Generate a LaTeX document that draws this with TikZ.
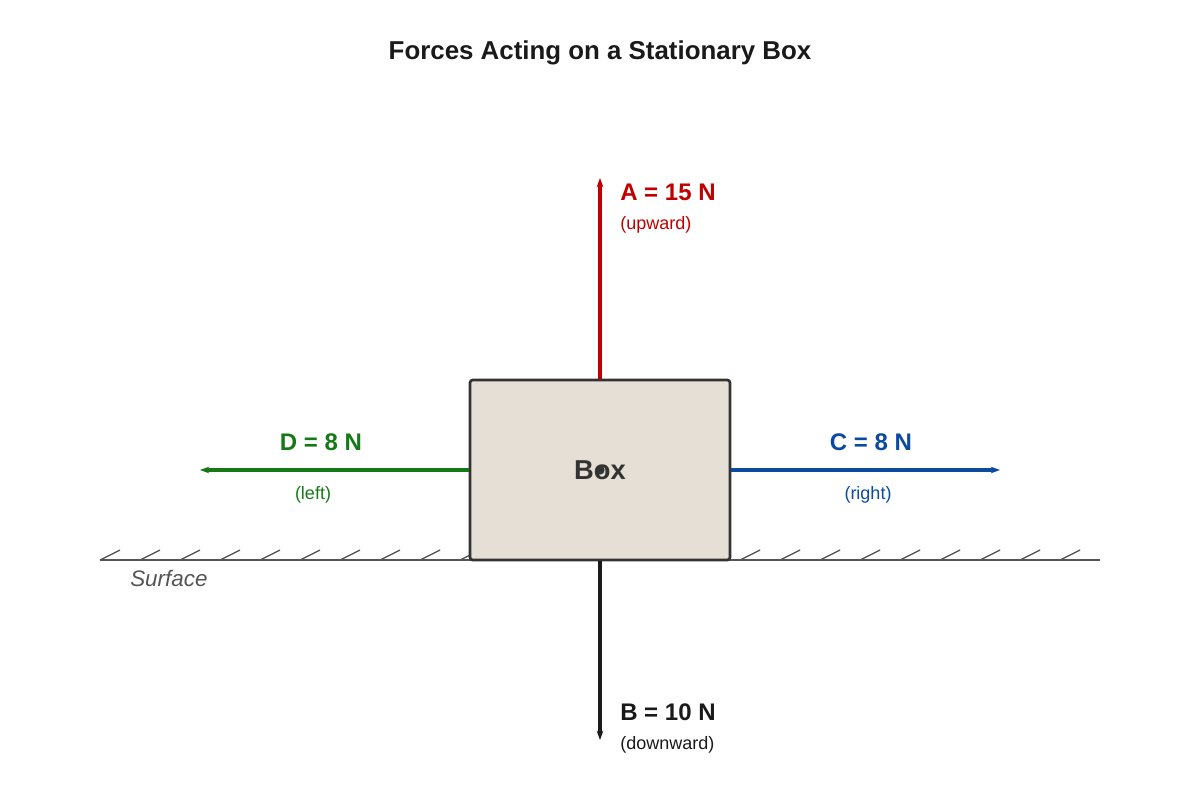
\documentclass[tikz,border=0pt]{standalone}
\usepackage{fontspec}
\setmainfont{Liberation Sans}
\usetikzlibrary{arrows.meta}
\definecolor{cA}{HTML}{C00000}
\definecolor{cB}{HTML}{1A1A1A}
\definecolor{cC}{HTML}{0B4A9E}
\definecolor{cD}{HTML}{157A15}
\definecolor{boxfill}{HTML}{E6DFD5}
\definecolor{boxline}{HTML}{333333}
\definecolor{ground}{HTML}{555555}
\begin{document}
\begin{tikzpicture}[x=0.75pt,y=-0.75pt,
  force/.style={line width=2.3pt,-{Stealth[length=7pt,width=5pt]}},
  big/.style={font=\fontsize{18}{21}\selectfont\bfseries,inner sep=0},
  small/.style={font=\fontsize{13.5}{16}\selectfont,inner sep=0},
  hatch/.style={ground,line width=1pt}]
\useasboundingbox (0,0) rectangle (1200,800);
\node[font=\fontsize{19.4}{23}\selectfont\bfseries,text=cB] (title) at (600,53) {Forces Acting on a Stationary Box};
% ground
\draw[ground,line width=1.6pt] (100,560) -- (1100,560);
\foreach \x in {100,140,...,1060} \draw[hatch] (\x,560) -- (\x+20,550);
\node[font=\fontsize{16.8}{20}\selectfont\itshape,text=ground,anchor=west,inner sep=0] (surf) at (130,578) {Surface};
% box
\node[draw=boxline,fill=boxfill,line width=2pt,rounded corners=2pt,minimum width=195pt,minimum height=135pt,inner sep=0] (box) at (600,470) {};
\node[font=\fontsize{20.5}{24}\selectfont\bfseries,text=boxline] (boxlbl) at (600,470) {Box};
\fill[boxline] (box.center) circle (3.5pt);
\coordinate (tA) at (600,178);
\coordinate (tB) at (600,740);
\coordinate (tC) at (1000,470);
\coordinate (tD) at (200,470);
\draw[force,draw=cA,fill=cA] (box.north) -- (tA);
\draw[force,draw=cB,fill=cB] (box.south) -- (tB);
\draw[force,draw=cC,fill=cC] (box.east) -- (tC);
\draw[force,draw=cD,fill=cD] (box.west) -- (tD);
\node[big,text=cA,anchor=west] (lA) at (620,192) {A = 15 N};
\node[small,text=cA,anchor=west] (sA) at (620,225) {(upward)};
\node[big,text=cB,anchor=west] (lB) at (620,712) {B = 10 N};
\node[small,text=cB,anchor=west] (sB) at (620,745) {(downward)};
\node[big,text=cC] (lC) at (871,442) {C = 8 N};
\node[small,text=cC] (sC) at (868,495) {(right)};
\node[big,text=cD] (lD) at (321,442) {D = 8 N};
\node[small,text=cD] (sD) at (313,495) {(left)};
\end{tikzpicture}
\end{document}
